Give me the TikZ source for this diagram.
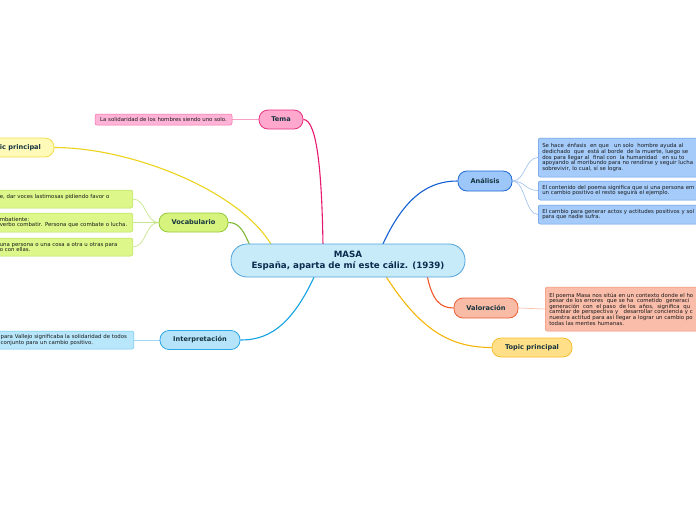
\documentclass[tikz,border=0pt]{standalone}
\usepackage{fontspec}
\setmainfont{DejaVu Sans}
\usetikzlibrary{backgrounds,calc}
\definecolor{labelc}{HTML}{15343F}
\definecolor{leafc}{HTML}{1A1A1A}
\definecolor{cfill}{HTML}{C8EBFA}\definecolor{cdraw}{HTML}{4FA3DC}\definecolor{ctext}{HTML}{0D2B4E}
\definecolor{tfill}{HTML}{FFA8CE}\definecolor{tdraw}{HTML}{E5307E}\definecolor{tline}{HTML}{E8186E}
\definecolor{tlfill}{HTML}{FFB3D6}\definecolor{tldraw}{HTML}{F06AA8}\definecolor{tlline}{HTML}{F7A0C8}
\definecolor{yfill}{HTML}{FFFAB8}\definecolor{ydraw}{HTML}{F2DC4A}\definecolor{yline}{HTML}{EBD31A}
\definecolor{gfill}{HTML}{D6F37E}\definecolor{gdraw}{HTML}{96C93A}\definecolor{gline}{HTML}{7DB72F}
\definecolor{glfill}{HTML}{DDF78A}\definecolor{gldraw}{HTML}{B5DD5A}\definecolor{glline}{HTML}{C6E58F}
\definecolor{ifill}{HTML}{B5E3FA}\definecolor{idraw}{HTML}{2FA9E6}\definecolor{iline}{HTML}{12A2E4}
\definecolor{ilfill}{HTML}{B8E6FB}\definecolor{ildraw}{HTML}{6CC4EE}\definecolor{illine}{HTML}{9DD8F5}
\definecolor{afill}{HTML}{9DC7F9}\definecolor{adraw}{HTML}{1F69D6}\definecolor{aline}{HTML}{1560D2}
\definecolor{alfill}{HTML}{A4CBFA}\definecolor{aldraw}{HTML}{5F96E6}\definecolor{alline}{HTML}{A5C6F0}
\definecolor{vfill}{HTML}{F8BBA6}\definecolor{vdraw}{HTML}{EE5E36}\definecolor{vline}{HTML}{F0582A}
\definecolor{vlfill}{HTML}{F9BDAA}\definecolor{vldraw}{HTML}{F18F70}\definecolor{vlline}{HTML}{F7C2B0}
\definecolor{ofill}{HTML}{FFDF87}\definecolor{odraw}{HTML}{F4BE2E}\definecolor{oline}{HTML}{F5B50A}
\tikzset{
  branch/.style={draw, rounded corners=9pt, line width=0.8pt, minimum height=19pt, inner sep=0pt,
    font=\fontsize{6.6}{7}\selectfont\bfseries, text=labelc},
  leafbox/.style={draw, rounded corners=2pt, line width=0.5pt, inner xsep=4pt, inner ysep=0pt,
    font=\fontsize{5.4}{5.6}\selectfont, text=leafc, align=left},
  conn/.style={line width=1.1pt},
  leafconn/.style={line width=0.7pt},
}
\begin{document}
\begin{tikzpicture}[x=1pt,y=-1pt]
\useasboundingbox (0,0) rectangle (696,520);
\clip (0,0) rectangle (696,520);
% central
\node[draw=cdraw, fill=cfill, line width=0.8pt, rounded corners=16pt, minimum width=234pt, minimum height=33pt,
  inner sep=0pt, align=center, text=ctext, font=\fontsize{8.7}{11}\selectfont\bfseries] (c) at (348,260.5)
  {MASA\\España, aparta de mí este cáliz. (1939)};
% branches
\node[branch, fill=tfill, draw=tdraw, minimum width=44pt] (tema) at (281,119.5) {Tema};
\node[branch, fill=yfill, draw=ydraw, minimum width=80pt] (tp1) at (14,147.5) {Topic principal};
\node[branch, fill=gfill, draw=gdraw, minimum width=69pt] (voc) at (193.5,222.5) {Vocabulario};
\node[branch, fill=ifill, draw=idraw, minimum width=80pt] (int) at (200,340) {Interpretación};
\node[branch, fill=afill, draw=adraw, minimum width=54pt, minimum height=20pt] (ana) at (485,181) {Análisis};
\node[branch, fill=vfill, draw=vdraw, minimum width=64pt, minimum height=20pt] (val) at (486,308) {Valoración};
\node[branch, fill=ofill, draw=odraw, minimum width=80pt] (tp2) at (532,347.5) {Topic principal};
% leaves
\node[leafbox, fill=tlfill, draw=tldraw, minimum width=137pt, minimum height=11pt, align=center] (tl) at (163.5,119.5)
  {La solidaridad de los hombres siendo uno solo.};
\node[leafbox, fill=glfill, draw=gldraw, anchor=east, minimum width=137pt, text width=129pt, minimum height=18pt] (g1) at (133,199)
  {e, dar voces lastimosas pidiendo favor o\\\mbox{}};
\node[leafbox, fill=glfill, draw=gldraw, anchor=east, minimum width=137pt, text width=129pt, minimum height=19pt] (g2) at (133,222.5)
  {mbatiente:\\verbo combatir. Persona que combate o lucha.};
\node[leafbox, fill=glfill, draw=gldraw, anchor=east, minimum width=137pt, text width=129pt, minimum height=18pt] (g3) at (133,247)
  { una persona o una cosa a otra u otras para\\o con ellas.};
\node[leafbox, fill=ilfill, draw=ildraw, anchor=east, minimum width=137pt, text width=129pt, minimum height=18pt] (il) at (134,340)
  {para Vallejo significaba la solidaridad de todos\\conjunto para un cambio positivo.};
\node[leafbox, fill=alfill, draw=aldraw, anchor=west, minimum width=200pt, text width=192pt, minimum height=39pt] (a1) at (538,157.5)
  {Se hace \ énfasis \ en que \ \ un solo \ hombre ayuda al\\dedichado \ que \ está al borde \ de la muerte, luego se\\dos para llegar al \ final con \ la humanidad \ \ en su to\\apoyando al moribundo para no rendirse y seguir lucha\\sobrevivir, lo cual, sí se logra.};
\node[leafbox, fill=alfill, draw=aldraw, anchor=west, minimum width=200pt, text width=192pt, minimum height=19pt] (a2) at (538,190.5)
  {El contenido del poema significa que si una persona em\\un cambio positivo el resto seguirá el ejemplo.};
\node[leafbox, fill=alfill, draw=aldraw, anchor=west, minimum width=200pt, text width=192pt, minimum height=19pt] (a3) at (538,214.5)
  {El cambio para generar actos y actitudes positivos y sol\\para que nadie sufra.};
\node[leafbox, fill=vlfill, draw=vldraw, anchor=west, minimum width=200pt, text width=192pt, minimum height=44pt] (vl) at (545,309)
  {El poema Masa nos sitúa en un contexto donde el ho\\pesar de los errores \ que se ha \ cometido \ generaci\\generación \ con \ el paso \ de los \ años, \ significa \ qu\\cambiar de perspectiva y \ \ desarrollar conciencia y c\\nuestra actitud para así llegar a lograr un cambio po\\todas las mentes humanas.};
% connectors
\begin{pgfonlayer}{background}
\coordinate (cT) at (323,246);
\coordinate (cY) at (272,246);
\coordinate (cG) at (251,248);
\coordinate (cI) at (315,275);
\coordinate (cA) at (382,246);
\coordinate (cV) at (427,275);
\coordinate (cO) at (385,275);
\draw[conn, tline] (cT) .. controls (322,180) and (318,119.5) .. (tema.east);
\draw[conn, yline] (cY) .. controls (240,190) and (130,147.5) .. (tp1.east);
\draw[conn, gline] (cG) .. controls (244,232) and (240,222.5) .. (voc.east);
\draw[conn, iline] (cI) .. controls (290,330) and (265,340) .. (int.east);
\draw[conn, aline] (cA) .. controls (405,195) and (430,181) .. (ana.west);
\draw[conn, vline] (cV) .. controls (432,300) and (440,308) .. (val.west);
\draw[conn, oline] (cO) .. controls (420,330) and (450,347.5) .. (tp2.west);
\draw[leafconn, tlline] (tl.east) -- (tema.west);
\foreach \l in {g1,g2,g3}
  \draw[leafconn, glline] (voc.west) .. controls +(-13,0) and +(13,0) .. (\l.east);
\draw[leafconn, illine] (int.west) -- (il.east);
\foreach \l in {a1,a2,a3}
  \draw[leafconn, alline] (ana.east) .. controls +(13,0) and +(-13,0) .. (\l.west);
\draw[leafconn, vlline] (val.east) -- (vl.west);
\end{pgfonlayer}
\end{tikzpicture}
\end{document}
